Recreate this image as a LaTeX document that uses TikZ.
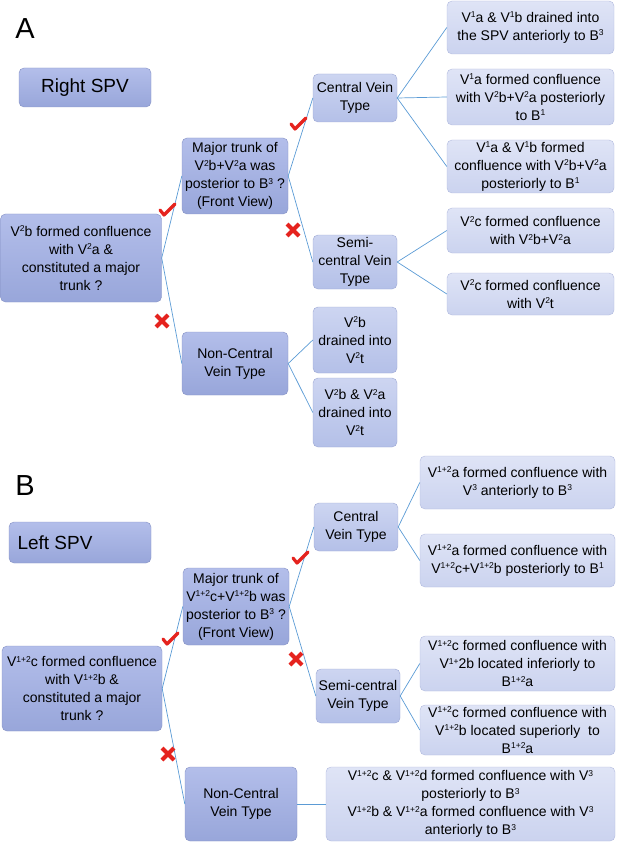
\documentclass[tikz,border=0pt]{standalone}
\usepackage{fontspec}
\setmainfont{Liberation Sans}
\newcommand{\vsup}[1]{\raisebox{0.6ex}{\fontsize{8.5}{8.5}\selectfont #1}}

\definecolor{linkblue}{HTML}{5B9BD5}
\definecolor{markred}{HTML}{E5231E}
\definecolor{darktop}{HTML}{B3BEEA}
\definecolor{darkbot}{HTML}{98A6DA}
\definecolor{darkline}{HTML}{8591C4}
\definecolor{midtop}{HTML}{CDD5F1}
\definecolor{midbot}{HTML}{B4C0E8}
\definecolor{midline}{HTML}{9CA7D3}
\definecolor{leaftop}{HTML}{DFE4F6}
\definecolor{leafbot}{HTML}{CBD3EF}
\definecolor{leafline}{HTML}{B1BADE}

\begin{document}
\begin{tikzpicture}[x=1pt,y=-1pt,
	box/.style={draw, rounded corners=5pt, align=center, inner sep=1pt,
		font=\fontsize{14}{18}\selectfont},
	dark/.style={box, draw=darkline, top color=darktop, bottom color=darkbot},
	mid/.style={box, draw=midline, top color=midtop, bottom color=midbot},
	leaf/.style={box, draw=leafline, top color=leaftop, bottom color=leafbot},
	link/.style={draw=linkblue, line width=0.7pt},
	okmark/.pic={\draw[markred, line width=3.2pt, line cap=round, line join=round] (-7,0) -- (-3,5) -- (8,-6);},
	nomark/.pic={\draw[markred, line width=4pt] (-6,-6) -- (6,6) (-6,6) -- (6,-6);}]

	\useasboundingbox (0,0) rectangle (616,842);

	% ----- part A : right SPV -----
	\node[font=\fontsize{29}{29}\selectfont] (labA) at (25,29) {A};
	\node[dark, minimum width=132pt, minimum height=39pt, font=\fontsize{19}{19}\selectfont] (spvA) at (85,87.5) {Right SPV};

	\node[dark, minimum width=161pt, minimum height=88pt] (rootA) at (81,258)
		{V\vsup{2}b formed confluence\\ with V\vsup{2}a \&\\ constituted a major\\ trunk ?};
	\node[dark, minimum width=106pt, minimum height=76pt] (trunkA) at (235,176)
		{Major trunk of\\ V\vsup{2}b+V\vsup{2}a was\\ posterior to B\vsup{3} ?\\ (Front View)};
	\node[dark, minimum width=106pt, minimum height=63pt] (ncA) at (235,363.5)
		{Non-Central\\ Vein Type};

	\node[mid, minimum width=84pt, minimum height=48pt] (centA) at (355,98) {Central Vein\\ Type};
	\node[mid, minimum width=84pt, minimum height=54pt] (semiA) at (355,262) {Semi-\\ central Vein\\ Type};
	\node[mid, minimum width=84pt, minimum height=66pt] (ncAone) at (355,340) {V\vsup{2}b\\ drained into\\ V\vsup{2}t};
	\node[mid, minimum width=84pt, minimum height=69pt] (ncAtwo) at (355,412.5) {V\vsup{2}b \& V\vsup{2}a\\ drained into\\ V\vsup{2}t};

	% leaves A
	\node[leaf, minimum width=167pt, minimum height=53pt] (aone) at (530.5,27.5)
		{V\vsup{1}a \& V\vsup{1}b drained into\\ the SPV anteriorly to B\vsup{3}};
	\node[leaf, minimum width=167pt, minimum height=56pt] (atwo) at (530.5,97)
		{V\vsup{1}a formed confluence\\ with V\vsup{2}b+V\vsup{2}a posteriorly\\ to B\vsup{1}};
	\node[leaf, minimum width=167pt, minimum height=53pt] (athree) at (530.5,166.5)
		{V\vsup{1}a \& V\vsup{1}b formed\\ confluence with V\vsup{2}b+V\vsup{2}a\\ posteriorly to B\vsup{1}};
	\node[leaf, minimum width=167pt, minimum height=45pt] (afour) at (530.5,230.5)
		{V\vsup{2}c formed confluence\\ with V\vsup{2}b+V\vsup{2}a};
	\node[leaf, minimum width=167pt, minimum height=42pt] (afive) at (530.5,294)
		{V\vsup{2}c formed confluence\\ with V\vsup{2}t};

	% connectors A
	\draw[link] (rootA.east) -- (trunkA.west);
	\draw[link] (rootA.east) -- (ncA.west);
	\draw[link] (trunkA.east) -- (centA.west);
	\draw[link] (trunkA.east) -- (semiA.west);
	\draw[link] (ncA.east) -- (ncAone.west);
	\draw[link] (ncA.east) -- (ncAtwo.west);
	\draw[link] (centA.east) -- (aone.west);
	\draw[link] (centA.east) -- (atwo.west);
	\draw[link] (centA.east) -- (athree.west);
	\draw[link] (semiA.east) -- (afour.west);
	\draw[link] (semiA.east) -- (afive.west);

	% yes / no marks A
	\pic at (167,210) {okmark};
	\pic at (162,321) {nomark};
	\pic at (298,124) {okmark};
	\pic at (293,230) {nomark};

	% ----- part B : left SPV -----
	\node[font=\fontsize{29}{29}\selectfont] (labB) at (25,486) {B};
	\node[dark, minimum width=142pt, minimum height=41pt, font=\fontsize{19}{19}\selectfont] (spvB) at (80,542.5) {Left SPV\hspace*{50pt}};

	\node[dark, minimum width=160pt, minimum height=85pt] (rootB) at (82,688.5)
		{V\vsup{1+2}c formed confluence\\ with V\vsup{1+2}b \&\\ constituted a major\\ trunk ?};
	\node[dark, minimum width=106pt, minimum height=77pt] (trunkB) at (236,606.5)
		{Major trunk of\\ V\vsup{1+2}c+V\vsup{1+2}b was\\ posterior to B\vsup{3} ?\\ (Front View)};
	\node[dark, minimum width=112pt, minimum height=74pt] (ncB) at (241,804)
		{Non-Central\\ Vein Type};

	\node[mid, minimum width=84pt, minimum height=48pt] (centB) at (356,527) {Central\\ Vein Type};
	\node[mid, minimum width=84pt, minimum height=54pt] (semiB) at (358,696) {Semi-central\\ Vein Type};

	% leaves B
	\node[leaf, minimum width=195pt, minimum height=53pt] (bone) at (517.5,482.5)
		{V\vsup{1+2}a formed confluence with\\ V\vsup{3} anteriorly to B\vsup{3}};
	\node[leaf, minimum width=195pt, minimum height=53pt] (btwo) at (517.5,560.5)
		{V\vsup{1+2}a formed confluence with\\ V\vsup{1+2}c+V\vsup{1+2}b posteriorly to B\vsup{1}};
	\node[leaf, minimum width=195pt, minimum height=55pt] (bthree) at (517.5,663.5)
		{V\vsup{1+2}c formed confluence with\\ V\vsup{1+}2b located inferiorly to\\ B\vsup{1+2}a};
	\node[leaf, minimum width=195pt, minimum height=50pt] (bfour) at (517.5,730)
		{V\vsup{1+2}c formed confluence with\\ V\vsup{1+2}b located superiorly\ \ to\\ B\vsup{1+2}a};
	\node[leaf, minimum width=289pt, minimum height=74pt] (bfive) at (470.5,804)
		{V\vsup{1+2}c \& V\vsup{1+2}d formed confluence with V\vsup{3}\\ posteriorly to B\vsup{3}\\
		 V\vsup{1+2}b \& V\vsup{1+2}a formed confluence with V\vsup{3}\\ anteriorly to B\vsup{3}};

	% connectors B
	\draw[link] (rootB.east) -- (trunkB.west);
	\draw[link] (rootB.east) -- (ncB.west);
	\draw[link] (trunkB.east) -- (centB.west);
	\draw[link] (trunkB.east) -- (semiB.west);
	\draw[link] (centB.east) -- (bone.west);
	\draw[link] (centB.east) -- (btwo.west);
	\draw[link] (semiB.east) -- (bthree.west);
	\draw[link] (semiB.east) -- (bfour.west);
	\draw[link] (ncB.east) -- (bfive.west);

	% yes / no marks B
	\pic at (170,639) {okmark};
	\pic at (168,754) {nomark};
	\pic at (300,558) {okmark};
	\pic at (296,659) {nomark};

\end{tikzpicture}
\end{document}
